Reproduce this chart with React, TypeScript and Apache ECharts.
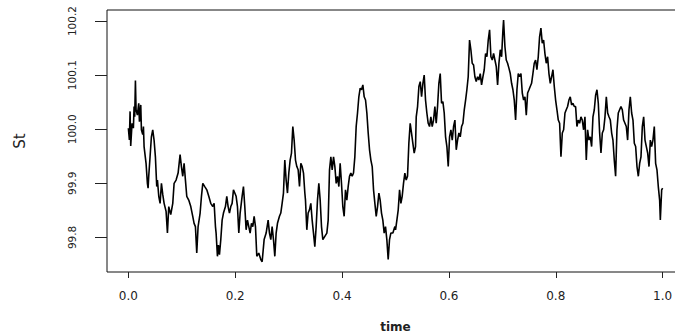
import React, { useEffect, useRef } from 'react';
import * as echarts from 'echarts';

// St(time), in segments of [time, St]
const segA: [number, number][] = [
  [0, 100.002], [0.0019, 99.98], [0.0032, 100.033], [0.0044, 99.969], [0.0069, 100.011], [0.0094, 100.002],
  [0.0107, 100.042], [0.0119, 100.023], [0.0132, 100.09], [0.0144, 100.036], [0.0169, 100.026], [0.0194, 100.048],
  [0.0207, 100.014], [0.0232, 100.045], [0.0244, 99.999], [0.0269, 99.99], [0.0282, 100.005], [0.0294, 99.968],
  [0.0331, 99.937], [0.0356, 99.9], [0.0369, 99.891], [0.0381, 99.913], [0.0406, 99.949], [0.0431, 99.986],
  [0.0456, 99.999], [0.0481, 99.98], [0.0506, 99.949], [0.0531, 99.894], [0.0544, 99.906], [0.0569, 99.876],
  [0.0594, 99.863], [0.0619, 99.9], [0.0644, 99.879], [0.0669, 99.863], [0.0706, 99.848], [0.0731, 99.808],
  [0.0756, 99.857], [0.0793, 99.842], [0.0831, 99.863], [0.0856, 99.9], [0.0893, 99.906], [0.0931, 99.919],
  [0.0968, 99.953], [0.0993, 99.931], [0.1018, 99.913], [0.1043, 99.937], [0.1068, 99.906], [0.1093, 99.876],
  [0.113, 99.869], [0.1168, 99.857], [0.1205, 99.839], [0.123, 99.826], [0.1255, 99.82], [0.128, 99.771],
  [0.1305, 99.82], [0.1343, 99.845], [0.1368, 99.876], [0.1393, 99.9], [0.143, 99.894], [0.1468, 99.888],
  [0.1505, 99.876], [0.1542, 99.863], [0.158, 99.857], [0.1605, 99.863], [0.163, 99.82],
];
const segB: [number, number][] = [
  [0.1642, 99.808], [0.1667, 99.765], [0.1686, 99.786], [0.1705, 99.768], [0.173, 99.796], [0.1755, 99.832],
  [0.178, 99.845], [0.1817, 99.857], [0.1842, 99.876], [0.1867, 99.857], [0.1892, 99.845], [0.1917, 99.857],
  [0.1942, 99.863], [0.1967, 99.888], [0.1992, 99.882], [0.2017, 99.876], [0.2042, 99.857], [0.2067, 99.808],
  [0.2092, 99.845], [0.2129, 99.876], [0.2154, 99.894], [0.2179, 99.857], [0.2204, 99.814], [0.2229, 99.832],
  [0.2254, 99.82], [0.2279, 99.808], [0.2304, 99.826], [0.2329, 99.82], [0.2354, 99.839], [0.2379, 99.82],
  [0.2404, 99.765], [0.2441, 99.771], [0.2479, 99.759], [0.2504, 99.755], [0.2541, 99.796], [0.2579, 99.808],
  [0.2616, 99.832], [0.2641, 99.808], [0.2666, 99.796], [0.2691, 99.82], [0.2716, 99.796], [0.2741, 99.765],
  [0.2766, 99.808], [0.2791, 99.826], [0.2828, 99.839], [0.2853, 99.845], [0.2878, 99.863], [0.2903, 99.882],
  [0.2928, 99.943], [0.2953, 99.906], [0.2978, 99.882], [0.3003, 99.919], [0.3028, 99.943], [0.3053, 99.956],
  [0.3078, 100.005], [0.3103, 99.98], [0.3128, 99.943], [0.3153, 99.931], [0.3178, 99.925], [0.3203, 99.894],
  [0.3228, 99.937], [0.3253, 99.931], [0.3278, 99.919], [0.3303, 99.882],
];
const segC: [number, number][] = [
  [0.3315, 99.869], [0.334, 99.814], [0.3365, 99.845], [0.339, 99.851], [0.3415, 99.863], [0.344, 99.832],
  [0.3465, 99.808], [0.349, 99.783], [0.3515, 99.82], [0.354, 99.869], [0.3565, 99.9], [0.359, 99.869],
  [0.3615, 99.82], [0.364, 99.796], [0.3677, 99.802], [0.3715, 99.808], [0.374, 99.832], [0.3765, 99.925],
  [0.379, 99.949], [0.3815, 99.925], [0.384, 99.949], [0.3865, 99.931], [0.389, 99.9], [0.3915, 99.913],
  [0.394, 99.894], [0.3964, 99.937], [0.3989, 99.9], [0.4014, 99.857], [0.4039, 99.839], [0.4064, 99.888],
  [0.4089, 99.869], [0.4114, 99.894], [0.4139, 99.913], [0.4164, 99.919], [0.4189, 99.913], [0.4214, 99.919],
  [0.4239, 99.949], [0.4264, 100.005], [0.4289, 100.03], [0.4314, 100.06], [0.4339, 100.076], [0.4364, 100.073],
  [0.4389, 100.082], [0.4414, 100.06], [0.4439, 100.054], [0.4464, 100.03], [0.4489, 99.993], [0.4514, 99.962],
  [0.4539, 99.943], [0.4564, 99.931], [0.4589, 99.888], [0.4614, 99.863], [0.4639, 99.839], [0.4664, 99.857],
  [0.4689, 99.882], [0.4713, 99.869], [0.4738, 99.845], [0.4763, 99.832], [0.4788, 99.808], [0.4813, 99.82],
  [0.4838, 99.796], [0.4863, 99.759], [0.4888, 99.796], [0.4913, 99.808], [0.4951, 99.808], [0.4988, 99.82],
];
const segD: [number, number][] = [
  [0.5001, 99.814], [0.5026, 99.832], [0.5051, 99.851], [0.5076, 99.888], [0.5101, 99.863], [0.5125, 99.876],
  [0.515, 99.9], [0.5175, 99.919], [0.52, 99.906], [0.5225, 99.913], [0.525, 99.974], [0.5275, 100.011],
  [0.53, 99.993], [0.5325, 99.974], [0.535, 99.956], [0.5375, 99.968], [0.5388, 100.023], [0.5413, 100.042],
  [0.5438, 100.079], [0.5463, 100.088], [0.5488, 100.06], [0.5513, 100.085], [0.5537, 100.1], [0.5562, 100.054],
  [0.5587, 100.03], [0.5612, 100.011], [0.5637, 100.005], [0.5662, 100.023], [0.5687, 100.005], [0.5712, 100.017],
  [0.5737, 100.042], [0.5762, 100.011], [0.5787, 100.042], [0.5812, 100.085], [0.5837, 100.103], [0.5862, 100.048],
  [0.5887, 100.051], [0.5912, 100.03], [0.5937, 99.986], [0.5962, 99.968], [0.5987, 99.931], [0.6012, 99.986],
  [0.6037, 99.999], [0.6062, 99.98], [0.6087, 100.005], [0.6112, 100.017], [0.6137, 99.962], [0.6162, 99.98],
  [0.6187, 99.993], [0.6212, 99.986], [0.6237, 100.005], [0.6262, 100.011], [0.6287, 100.036], [0.6312, 100.054],
  [0.6336, 100.073], [0.6361, 100.097], [0.6386, 100.165], [0.6411, 100.147], [0.6436, 100.122], [0.6461, 100.119],
  [0.6486, 100.097], [0.6511, 100.088], [0.6536, 100.097], [0.6561, 100.091], [0.6586, 100.103], [0.6611, 100.082],
  [0.6636, 100.097], [0.6661, 100.11], [0.6686, 100.14],
];
const segE: [number, number][] = [
  [0.6711, 100.134], [0.6736, 100.165], [0.6761, 100.184], [0.6786, 100.134], [0.6811, 100.128], [0.6836, 100.14],
  [0.6861, 100.128], [0.6886, 100.116], [0.6911, 100.082], [0.6936, 100.122], [0.6961, 100.147], [0.6986, 100.134],
  [0.7011, 100.184], [0.7023, 100.202], [0.7048, 100.153], [0.7073, 100.128], [0.7098, 100.122], [0.7123, 100.113],
  [0.7148, 100.103], [0.7173, 100.085], [0.7198, 100.073], [0.7223, 100.054], [0.7248, 100.017], [0.7273, 100.073],
  [0.7298, 100.103], [0.7323, 100.097], [0.7348, 100.103], [0.7373, 100.067], [0.7398, 100.054], [0.7423, 100.06],
  [0.7448, 100.026], [0.7473, 100.067], [0.7498, 100.073], [0.7522, 100.079], [0.7547, 100.085], [0.7572, 100.103],
  [0.7597, 100.122], [0.7622, 100.128], [0.7647, 100.11], [0.7672, 100.134], [0.7697, 100.171], [0.7722, 100.187],
  [0.7747, 100.159], [0.7772, 100.165], [0.7797, 100.14], [0.7822, 100.122], [0.7847, 100.134], [0.7872, 100.103],
  [0.7897, 100.085], [0.7922, 100.097], [0.7947, 100.11], [0.7972, 100.079], [0.7997, 100.054], [0.8022, 100.036],
  [0.8047, 100.017], [0.8072, 100.011], [0.8097, 99.949], [0.8122, 99.993], [0.8147, 99.999], [0.8172, 100.03],
  [0.8196, 100.036], [0.8221, 100.042], [0.8246, 100.054], [0.8271, 100.06], [0.8296, 100.045], [0.8321, 100.048],
  [0.8346, 100.042],
];
const segF: [number, number][] = [
  [0.8371, 100.042], [0.8396, 100.005], [0.8421, 100.017], [0.8446, 100.011], [0.8471, 100.023], [0.8496, 100.017],
  [0.8521, 99.999], [0.8546, 100.023], [0.8571, 99.943], [0.8596, 99.999], [0.8621, 99.98], [0.8646, 99.986],
  [0.8671, 99.968], [0.8696, 100.023], [0.8721, 100.036], [0.8746, 100.063], [0.8771, 100.073], [0.8796, 100.048],
  [0.8821, 99.993], [0.8846, 99.956], [0.8871, 99.993], [0.8896, 99.999], [0.8921, 100.023], [0.8946, 100.06],
  [0.8971, 100.03], [0.8996, 100.023], [0.9021, 100.017], [0.9046, 99.993], [0.907, 99.98], [0.9095, 99.943],
  [0.912, 99.913], [0.9145, 99.999], [0.917, 100.03], [0.9195, 100.036], [0.922, 100.042], [0.9245, 100.036],
  [0.927, 100.017], [0.9295, 100.011], [0.932, 100.005], [0.9345, 99.98], [0.937, 100.036], [0.9395, 100.06],
  [0.942, 100.03], [0.9445, 100.017], [0.947, 99.974], [0.9495, 99.968], [0.952, 99.931], [0.9545, 99.913],
  [0.957, 99.937], [0.9595, 99.949], [0.962, 100.005], [0.9645, 100.023], [0.967, 99.98], [0.9695, 99.968],
  [0.972, 99.956], [0.9745, 99.931], [0.977, 99.98], [0.9794, 99.968], [0.9819, 99.98], [0.9844, 100.005],
  [0.9869, 99.937], [0.9894, 99.925], [0.9919, 99.894], [0.9944, 99.869], [0.9957, 99.832], [0.9982, 99.888],
  [1.0, 99.891],
];

const xTicks = [0, 0.2, 0.4, 0.6, 0.8, 1.0];
const yTicks = [99.8, 99.9, 100.0, 100.1, 100.2];

export default function App() {
  const ref = useRef<HTMLDivElement>(null);
  useEffect(() => {
    const chart = echarts.init(ref.current!, null, { renderer: 'svg' });
    const data = [...segA, ...segB, ...segC, ...segD, ...segE, ...segF];
    const labelColor = '#222';
    chart.setOption({
      animation: false,
      backgroundColor: '#ffffff',
      grid: {
        left: 107,
        top: 10,
        width: 577,
        height: 262,
        show: true,
        borderColor: '#111',
        borderWidth: 1,
        backgroundColor: 'transparent',
        outerBoundsMode: 'none',
      },
      xAxis: {
        type: 'value',
        min: -0.04,
        max: 1.04,
        name: 'time',
        nameLocation: 'middle',
        nameGap: 49,
        nameTextStyle: { fontFamily: 'DejaVu Sans', fontWeight: 'bold', fontSize: 12, color: labelColor },
        axisLine: { show: false, onZero: false },
        axisTick: { show: true, length: 6, customValues: xTicks, lineStyle: { color: '#222' } },
        axisLabel: {
          customValues: xTicks,
          formatter: (v: number) => v.toFixed(1),
          margin: 18,
          fontFamily: 'DejaVu Sans',
          fontSize: 12,
          color: labelColor,
        },
        splitLine: { show: false },
      },
      yAxis: {
        type: 'value',
        min: 99.736,
        max: 100.2205,
        name: 'St',
        nameLocation: 'middle',
        nameGap: 80,
        nameTextStyle: { fontFamily: 'DejaVu Sans', fontSize: 15, color: labelColor },
        axisLine: { show: false, onZero: false },
        axisTick: { show: true, length: 12, customValues: yTicks, lineStyle: { color: '#222' } },
        axisLabel: {
          customValues: yTicks,
          formatter: (v: number) => v.toFixed(1),
          rotate: 90,
          margin: 30,
          fontFamily: 'DejaVu Sans',
          fontSize: 10.5,
          color: labelColor,
        },
        splitLine: { show: false },
      },
      series: [
        {
          type: 'line',
          data,
          symbol: 'none',
          showSymbol: false,
          lineStyle: { color: '#000', width: 1.6 },
        },
      ],
    });
    return () => chart.dispose();
  }, []);
  return <div ref={ref} style={{ position: 'fixed', left: 0, top: 0, width: 675, height: 333 }} />;
}
